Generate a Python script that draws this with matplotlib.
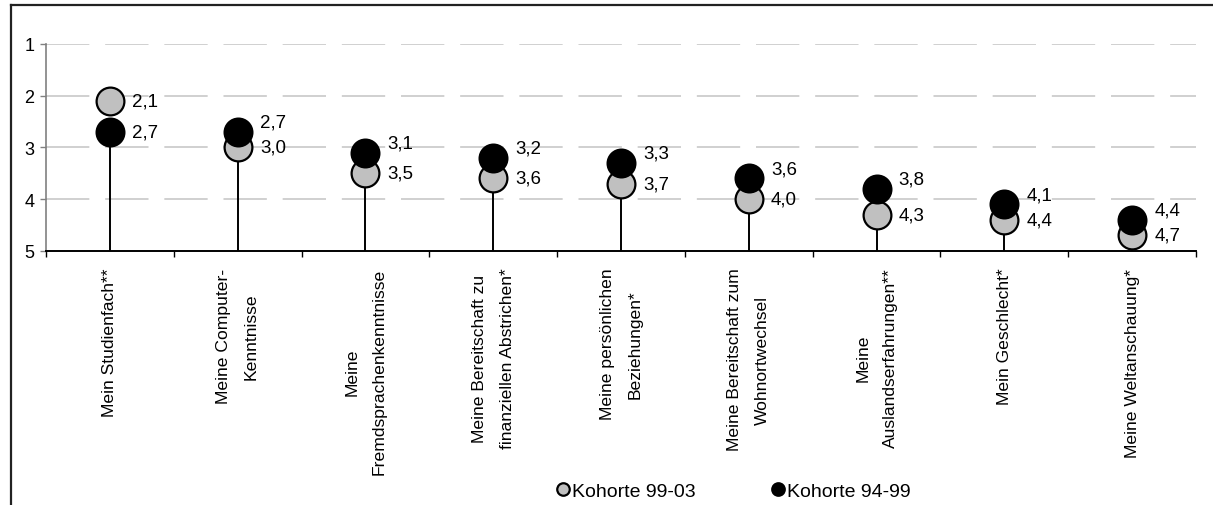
import matplotlib.pyplot as plt
from matplotlib.lines import Line2D
import numpy as np

categories = [
    'Mein Studienfach**',
    'Meine Computer-\nKenntnisse',
    'Meine\nFremdsprachenkenntnisse',
    'Meine Bereitschaft zu\nfinanziellen Abstrichen*',
    'Meine persönlichen\nBeziehungen*',
    'Meine Bereitschaft zum\nWohnortwechsel',
    'Meine\nAuslandserfahrungen**',
    'Mein Geschlecht*',
    'Meine Weltanschauung*',
]
kohorte_99_03 = [2.1, 3.0, 3.5, 3.6, 3.7, 4.0, 4.3, 4.4, 4.7]
kohorte_94_99 = [2.7, 2.7, 3.1, 3.2, 3.3, 3.6, 3.8, 4.1, 4.4]
series_labels = ['Kohorte 99-03', 'Kohorte 94-99']
y_ticks = [1, 2, 3, 4, 5]

plt.rcParams['font.family'] = ['Liberation Sans', 'DejaVu Sans']

W, H = 1213, 506
fig = plt.figure(figsize=(W / 100, H / 100), dpi=100)
ax = fig.add_axes([46 / W, 1 - 252 / H, (1196 - 46) / W, (252 - 44.7) / H])

x = np.arange(len(categories))
gray_c = '#c0c0c0'

# grid
for v in y_ticks[:-1]:
    ax.axhline(v, color='#c8c8c8', lw=1.2, dashes=(26, 9.5), zorder=0)

# stems
low = np.maximum(kohorte_99_03, kohorte_94_99)
ax.vlines(x, low, 5, color='black', lw=1.4, zorder=1)

ax.plot(x, kohorte_99_03, 'o', ms=20, mfc=gray_c, mec='black', mew=1.6, zorder=2)
ax.plot(x, kohorte_94_99, 'o', ms=20, mfc='black', mec='black', mew=1.6, zorder=3)

# value labels
for i in range(len(x)):
    a, b = kohorte_99_03[i], kohorte_94_99[i]
    close = abs(a - b) < 0.6
    for v, other in ((a, b), (b, a)):
        dy = 7 if (close and v < other) else 0
        ax.annotate(f'{v:.1f}'.replace('.', ','), (x[i], v),
                    xytext=(16, dy), textcoords='offset points',
                    ha='left', va='center', fontsize=13.5)

ax.set_xlim(-0.5, len(categories) - 0.5)
ax.set_ylim(5, 1)
ax.set_yticks(y_ticks)
ax.set_yticklabels([str(t) for t in y_ticks], fontsize=13)
ax.tick_params(axis='y', length=4.5, color='#808080', width=1, pad=4)

ax.set_xticks(x)
ax.set_xticklabels(categories, rotation=90, ha='center', va='top',
                   multialignment='center', fontsize=12.6, linespacing=2.05)
ax.set_xticks(np.arange(-0.5, len(categories)), minor=True)
ax.tick_params(axis='x', which='major', length=0, pad=12)
ax.tick_params(axis='x', which='minor', length=4.5, width=1, color='black')

for s in ['top', 'right']:
    ax.spines[s].set_visible(False)
ax.spines['left'].set_color('#808080')
ax.spines['left'].set_linewidth(1.2)
ax.spines['bottom'].set_color('black')
ax.spines['bottom'].set_linewidth(1.4)

# legend
handles = [
    Line2D([], [], ls='none', marker='o', ms=9, mfc=gray_c, mec='black', mew=1.6),
    Line2D([], [], ls='none', marker='o', ms=9, mfc='black', mec='black', mew=1.6),
]
fig.legend(handles, series_labels, ncol=2, loc='center', bbox_to_anchor=(734 / W, 1 - 492 / H),
           frameon=False, handlelength=0.6, handletextpad=0.2, columnspacing=3.9,
           prop={'size': 14})

# outer frame (left and top only)
fig.add_artist(Line2D([10.5 / W, 10.5 / W], [0, 1 - 5.5 / H], transform=fig.transFigure,
                      color='#222222', lw=1.6))
fig.add_artist(Line2D([10.5 / W, 1], [1 - 5.5 / H, 1 - 5.5 / H], transform=fig.transFigure,
                      color='#222222', lw=1.6))

fig.savefig('out.png', dpi=100)
